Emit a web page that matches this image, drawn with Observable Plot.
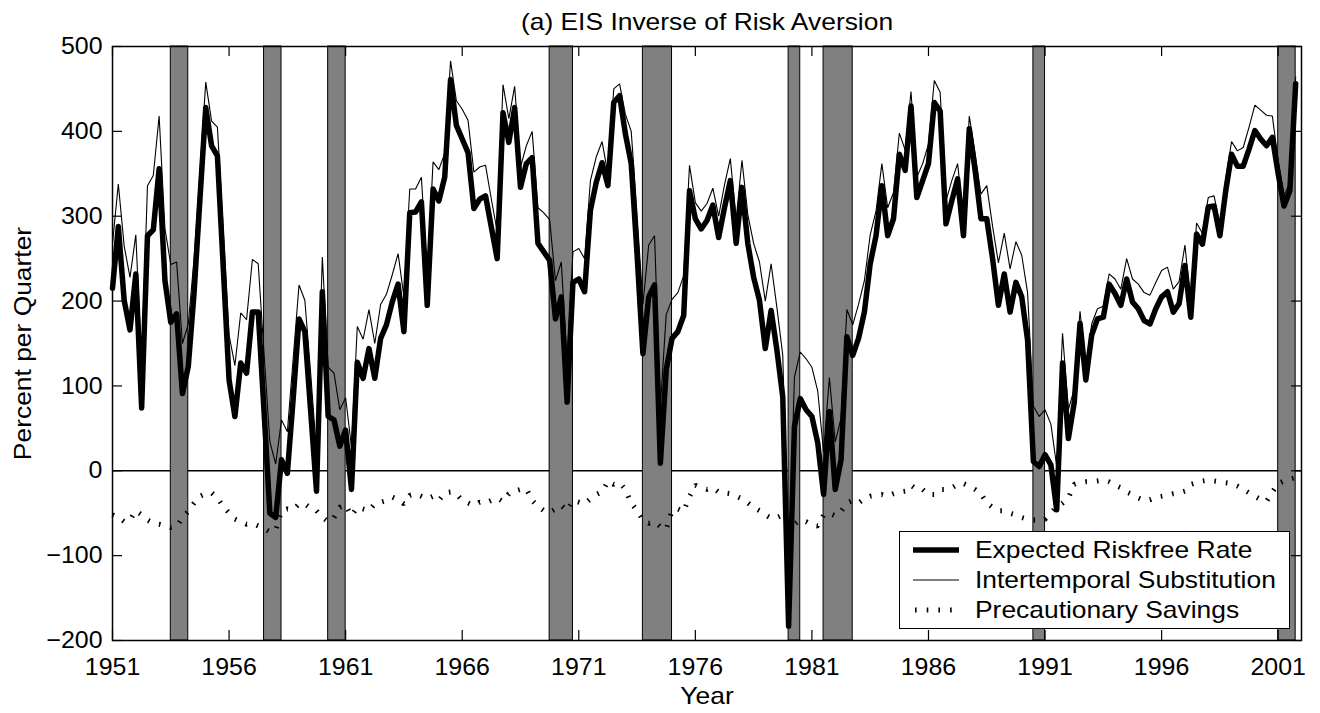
<!DOCTYPE html>
<html>
<head>
<meta charset="utf-8">
<script src="https://cdn.jsdelivr.net/npm/d3@7"></script>
<script src="https://cdn.jsdelivr.net/npm/@observablehq/plot@0.6"></script>
<style>
  body { margin: 0; background: #fff; }
  #wrap { position: relative; width: 1320px; height: 713px; font-family: "Liberation Sans", Arial, Helvetica, sans-serif; }
  #legend { position: absolute; left: 899px; top: 531px; width: 391px; height: 98px; box-sizing: border-box;
            border: 1.5px solid #000; background: #fff; }
  #legend .row { position: absolute; left: 0; height: 30px; width: 100%; }
  #legend svg { position: absolute; left: 13px; top: 0; }
  #legend span { position: absolute; left: 75px; top: 0; line-height: 30px; font-size: 24px; color: #000;
                 white-space: nowrap; transform: scaleX(1.1); transform-origin: 0 50%; }
</style>
</head>
<body>
<div id="wrap"></div>
<script>
// ---- data (quarterly, starting 1951Q1) ----
const startYear = 1951;
const riskfree = [
 215,288,201,166,232,74,277,284,356,224,175,185,91,123,210,320,428,383,371,240,
 107,64,127,115,187,187,70,-50,-55,13,-3,85,179,164,70,-24,211,64,60,29,
 48,-22,128,109,144,109,156,172,199,220,164,304,305,317,195,332,318,346,461,407,
 391,375,309,320,324,287,250,422,387,428,334,362,369,268,258,248,179,205,81,222,
 226,211,307,340,363,336,434,442,397,362,255,138,205,219,9,119,156,164,183,330,
 297,285,295,313,275,310,342,268,334,268,228,201,144,189,142,87,-183,52,85,72,
 64,33,-28,70,-22,13,158,136,156,187,244,277,336,277,297,373,354,430,322,342,
 362,434,424,291,318,344,277,403,354,297,297,250,195,232,187,222,205,154,11,5,
 19,7,-46,127,38,80,174,107,160,179,181,220,209,195,226,199,191,177,173,191,
 205,211,187,197,242,181,279,267,311,312,277,330,373,359,359,379,401,391,383,393,
 350,312,330,456
];
const intertemporal = [
 268,338,265,228,278,126,336,348,418,285,243,246,150,173,250,352,458,412,405,284,
 160,124,186,178,249,244,138,34,8,60,46,132,219,201,115,22,252,122,115,72,
 86,28,170,155,190,150,196,208,231,256,205,332,332,346,228,364,355,374,483,436,
 426,413,352,358,360,320,282,455,415,453,358,383,400,310,304,296,224,246,128,258,
 262,250,342,370,388,350,450,456,420,400,302,196,266,277,76,184,202,210,230,360,
 316,306,315,333,300,337,368,296,366,302,268,246,200,244,192,136,-118,110,140,132,
 122,94,22,110,34,62,190,172,196,224,278,306,362,310,328,398,378,447,346,362,
 385,460,446,318,342,362,296,418,374,326,336,288,245,280,238,270,254,210,76,64,
 72,55,5,162,72,96,188,122,173,191,194,232,226,214,250,226,220,210,207,222,
 236,240,214,223,266,198,292,280,322,324,290,344,388,377,381,405,431,425,419,418,
 365,324,340,464
];
const precautionary = [
 -52,-55,-60,-58,-47,-52,-58,-62,-63,-65,-67,-66,-55,-48,-38,-30,-27,-26,-32,-42,
 -50,-57,-60,-63,-62,-65,-68,-72,-70,-47,-45,-46,-39,-39,-44,-47,-55,-60,-55,-43,
 -40,-53,-43,-45,-47,-39,-37,-35,-31,-34,-39,-29,-27,-30,-33,-30,-35,-26,-25,-27,
 -35,-38,-41,-37,-38,-35,-32,-36,-27,-24,-22,-21,-35,-42,-47,-49,-45,-41,-47,-35,
 -37,-39,-33,-28,-25,-12,-16,-14,-22,-38,-47,-58,-62,-60,-66,-69,-47,-45,-48,-30,
 -17,-20,-22,-20,-25,-26,-27,-30,-33,-38,-43,-47,-52,-56,-55,-52,-63,-63,-58,-60,
 -64,-65,-52,-50,-53,-48,-38,-35,-38,-33,-30,-29,-28,-30,-27,-25,-24,-17,-22,-22,
 -28,-28,-22,-22,-20,-16,-15,-18,-22,-27,-38,-43,-47,-47,-50,-52,-55,-57,-58,-58,
 -57,-50,-42,-38,-32,-16,-14,-13,-13,-12,-11,-13,-17,-20,-25,-28,-32,-35,-34,-31,
 -30,-29,-27,-26,-24,-16,-14,-12,-11,-12,-13,-14,-15,-18,-22,-26,-30,-34,-36,-25,
 -15,-12,-10,-8
];
// NBER recessions (peak, trough), in years
const recessions = [
 [1953.5,1954.25],[1957.5,1958.25],[1960.25,1961.0],[1969.75,1970.75],[1973.75,1975.0],
 [1980.0,1980.5],[1981.5,1982.75],[1990.5,1991.0],[2001.0,2001.75]
];
const xTicks = [1951,1956,1961,1966,1971,1976,1981,1986,1991,1996,2001];
const yTicks = [-200,-100,0,100,200,300,400,500];
const seriesNames = ["Expected Riskfree Rate","Intertemporal Substitution","Precautionary Savings"];

// ---- layout ----
const W = 1320, H = 713, mL = 112, mR = 19, mT = 46, mB = 73;
const xDomain = [1951, 2002], yDomain = [-200, 500];
const pxX = (W - mL - mR) / (xDomain[1] - xDomain[0]);
const pxY = (H - mT - mB) / (yDomain[1] - yDomain[0]);
const tickLen = 10;
const tx = tickLen / pxX, ty = tickLen / pxY;
const FONT = '"Liberation Sans", Arial, Helvetica, sans-serif';
const FS = 24;

const table = riskfree.map((v, i) => ({
  date: startYear + i / 4, riskfree: v, inter: intertemporal[i], prec: precautionary[i]
}));
const fmt = d => d < 0 ? "\u2212" + Math.abs(d) : String(d);

const chart = Plot.plot({
  width: W, height: H,
  marginLeft: mL, marginRight: mR, marginTop: mT, marginBottom: mB,
  x: {domain: xDomain},
  y: {domain: yDomain},
  style: {fontFamily: FONT, fontSize: FS + "px", color: "#000", background: "#fff", overflow: "visible"},
  marks: [
    Plot.ruleY([0], {stroke: "#000", strokeWidth: 1.5}),
    Plot.rect(recessions, {x1: d => d[0], x2: d => d[1], y1: yDomain[0], y2: yDomain[1],
      fill: "#808080", stroke: "#000", strokeWidth: 1}),
    Plot.line(table, {x: "date", y: "prec", stroke: "#000", strokeWidth: 5,
      strokeDasharray: "1.6,10", strokeLinecap: "butt", strokeLinejoin: "miter"}),
    Plot.line(table, {x: "date", y: "inter", stroke: "#000", strokeWidth: 1.1, strokeLinejoin: "miter"}),
    Plot.line(table, {x: "date", y: "riskfree", stroke: "#000", strokeWidth: 5.5}),
    Plot.frame({stroke: "#000", strokeWidth: 1.5}),
    Plot.ruleX(xTicks, {x: d => d, y1: yDomain[0], y2: yDomain[0] + ty, stroke: "#000", strokeWidth: 1.2}),
    Plot.ruleX(xTicks, {x: d => d, y1: yDomain[1] - ty, y2: yDomain[1], stroke: "#000", strokeWidth: 1.2}),
    Plot.ruleY(yTicks, {y: d => d, x1: xDomain[0], x2: xDomain[0] + tx, stroke: "#000", strokeWidth: 1.2}),
    Plot.ruleY(yTicks, {y: d => d, x1: xDomain[1] - tx, x2: xDomain[1], stroke: "#000", strokeWidth: 1.2}),
    Plot.axisX({ticks: xTicks, tickSize: 0, tickPadding: 17, tickFormat: d => String(d),
      fontSize: FS, label: null}),
    Plot.axisY({ticks: yTicks, tickSize: 0, tickPadding: 10, tickFormat: fmt, fontSize: FS, label: null}),
    Plot.text(["Year"], {text: d => d, frameAnchor: "bottom", dy: 56, fontSize: FS, lineAnchor: "middle",
      textAnchor: "middle"}),
    Plot.text(["Percent per Quarter"], {text: d => d, frameAnchor: "left", rotate: -90, dx: -89,
      fontSize: FS, lineAnchor: "middle", textAnchor: "middle"}),
    Plot.text(["(a) EIS Inverse of Risk Aversion"], {text: d => d, frameAnchor: "top", dy: -24,
      fontSize: FS, lineAnchor: "middle", textAnchor: "middle"})
  ]
});

const wrap = document.getElementById("wrap");
wrap.appendChild(chart);

// widen glyphs slightly to match the reference's typeface proportions
function stretch(sel, factor) {
  chart.querySelectorAll(sel).forEach(t => {
    const len = t.getComputedTextLength();
    if (len > 0) {
      t.setAttribute("textLength", (len * factor).toFixed(1));
      t.setAttribute("lengthAdjust", "spacingAndGlyphs");
    }
  });
}
stretch('g[aria-label="text"] text', 1.1);
stretch('g[aria-label$="tick label"] text', 1.04);

// ---- legend ----
const legend = document.createElement("div");
legend.id = "legend";
const samples = [
  '<line x1="0" y1="15" x2="46" y2="15" stroke="#000" stroke-width="5.5"/>',
  '<line x1="0" y1="15" x2="46" y2="15" stroke="#000" stroke-width="1.1"/>',
  '<line x1="2" y1="15" x2="46" y2="15" stroke="#000" stroke-width="5" stroke-dasharray="1.6,10.1"/>'
];
seriesNames.forEach((name, i) => {
  const row = document.createElement("div");
  row.className = "row";
  row.style.top = (3 + i * 30) + "px";
  row.innerHTML = `<svg width="48" height="30">${samples[i]}</svg><span>${name}</span>`;
  legend.appendChild(row);
});
wrap.appendChild(legend);
</script>
</body>
</html>
